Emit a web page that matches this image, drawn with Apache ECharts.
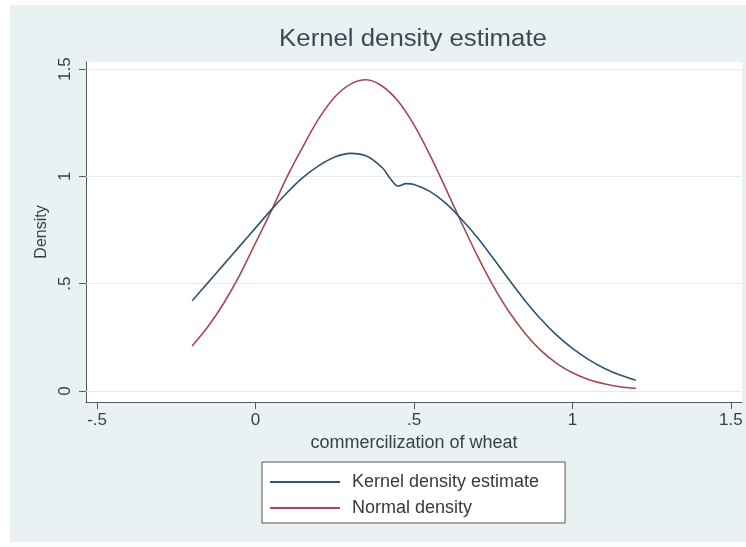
<!DOCTYPE html>
<html>
<head>
<meta charset="utf-8">
<script src="https://cdn.jsdelivr.net/npm/echarts@6/dist/echarts.min.js"></script>
<style>
html,body{margin:0;padding:0;background:#ffffff;}
#chart{width:746px;height:547px;}
</style>
</head>
<body>
<div id="chart"></div>
<script>
// ---- data ----
const titleText = "Kernel density estimate";
const xTitle = "commercilization of wheat";
const yTitle = "Density";
const seriesNames = ["Kernel density estimate", "Normal density"];

const xTickValues = [-0.5, 0, 0.5, 1, 1.5];
const xTickLabels = ["-.5", "0", ".5", "1", "1.5"];
const yTickValues = [0, 0.5, 1, 1.5];
const yTickLabels = ["0", ".5", "1", "1.5"];

const kdeX = [-0.20, -0.15, -0.10, -0.05, 0.00, 0.05, 0.10, 0.15, 0.20, 0.25, 0.30, 0.35, 0.40, 0.425, 0.45, 0.475, 0.50, 0.55, 0.60, 0.65, 0.70, 0.75, 0.80, 0.85, 0.90, 0.95, 1.00, 1.05, 1.10, 1.15, 1.20];
const kdeY = [0.42, 0.505, 0.59, 0.675, 0.76, 0.845, 0.925, 0.995, 1.05, 1.09, 1.107, 1.095, 1.04, 0.99, 0.955, 0.966, 0.962, 0.93, 0.875, 0.80, 0.715, 0.618, 0.518, 0.422, 0.335, 0.26, 0.198, 0.147, 0.106, 0.074, 0.05];

const normX = [-0.20, -0.15, -0.10, -0.05, 0.00, 0.05, 0.10, 0.15, 0.20, 0.25, 0.30, 0.35, 0.40, 0.45, 0.50, 0.55, 0.60, 0.65, 0.70, 0.75, 0.80, 0.85, 0.90, 0.95, 1.00, 1.05, 1.10, 1.15, 1.20];
const normY = [0.21, 0.30, 0.41, 0.54, 0.69, 0.84, 1.00, 1.14, 1.27, 1.37, 1.43, 1.45, 1.42, 1.35, 1.24, 1.10, 0.944, 0.784, 0.63, 0.49, 0.369, 0.269, 0.189, 0.129, 0.085, 0.054, 0.034, 0.020, 0.012];

// ---- build ----
const FONT = "'Liberation Sans', Arial, sans-serif";
const AX = "#555a60";
const TXT = "#3a4046";
function pairs(xs, ys){ return xs.map((x,i)=>[x, ys[i]]); }
function lab(vals, labels){ return function(v){ for(let i=0;i<vals.length;i++){ if(Math.abs(vals[i]-v)<1e-6) return labels[i]; } return ""; }; }

const chart = echarts.init(document.getElementById('chart'), null, {renderer:'canvas'});
chart.setOption({
  animation:false,
  backgroundColor:'#ffffff',
  graphic:[
    {type:'rect', z:-10, silent:true, shape:{x:10,y:5,width:736,height:537}, style:{fill:'#eaf1f3'}},
    {type:'text', z:10, x:413, y:40, scaleX:1.12, style:{text:titleText, font:"23px 'Liberation Sans', Arial, sans-serif", fill:'#3d4854', align:'center', verticalAlign:'middle'}}
  ],
  grid:{left:86, right:4, top:62, bottom:145, show:true, backgroundColor:'#ffffff', borderWidth:0},
  legend:{
    orient:'vertical', left:262, top:462,
    data:seriesNames,
    icon:'rect', itemWidth:70, itemHeight:2, itemGap:8,
    padding:[11,26,6,8],
    backgroundColor:'#ffffff', borderColor:'#555555', borderWidth:1, borderRadius:0,
    textStyle:{fontFamily:FONT, fontSize:18, color:'#333a40', padding:[0,0,0,7]}
  },
  xAxis:{
    type:'value', min:-0.535, max:1.535,
    name:xTitle, nameLocation:'middle', nameGap:27,
    nameTextStyle:{fontFamily:FONT, fontSize:18, color:TXT},
    axisLine:{show:true, onZero:false, lineStyle:{color:AX, width:1}},
    axisTick:{show:true, customValues:xTickValues, length:7, lineStyle:{color:AX}},
    axisLabel:{customValues:xTickValues, formatter:lab(xTickValues,xTickLabels), fontFamily:FONT, fontSize:17, color:TXT, margin:10},
    splitLine:{show:false}
  },
  yAxis:{
    type:'value', min:-0.0514, max:1.533,
    name:yTitle, nameLocation:'middle', nameGap:36, nameRotate:90,
    nameTextStyle:{fontFamily:FONT, fontSize:16, color:TXT},
    axisLine:{show:true, onZero:false, lineStyle:{color:AX, width:1}},
    axisTick:{show:true, customValues:yTickValues, length:7, lineStyle:{color:AX}},
    axisLabel:{customValues:yTickValues, formatter:lab(yTickValues,yTickLabels), rotate:90, fontFamily:FONT, fontSize:17, color:TXT, margin:12},
    splitLine:{show:false}
  },
  series:[
    {
      name:seriesNames[0], type:'line', data:pairs(kdeX,kdeY), smooth:0.35, showSymbol:false, symbol:'none',
      color:'#2d5573', lineStyle:{width:1.6, color:'#2d5573'}, z:3,
      markLine:{silent:true, symbol:'none', label:{show:false}, lineStyle:{color:'#e4ecef', type:'solid', width:1}, data:yTickValues.map(v=>({yAxis:v})), z:1}
    },
    {
      name:seriesNames[1], type:'line', data:pairs(normX,normY), smooth:0.35, showSymbol:false, symbol:'none',
      color:'#a54a50', lineStyle:{width:1.6, color:'#a54a50'}, z:2
    }
  ]
});
</script>
</body>
</html>
